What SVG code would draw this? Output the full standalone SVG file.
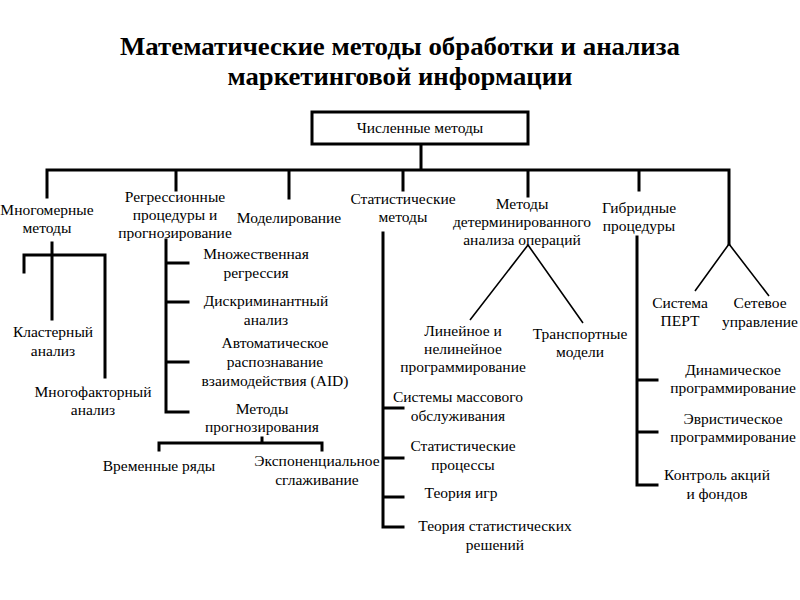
<svg xmlns="http://www.w3.org/2000/svg" width="800" height="600" viewBox="0 0 800 600">
<style>
text{font-size:15.5px;fill:#000;text-anchor:middle}
.title{font-size:25px;font-weight:bold}
.ln{stroke:#000;stroke-width:3;fill:none;stroke-linecap:square}
.dg{stroke:#000;stroke-width:1.6;fill:none}
</style>
<rect width="800" height="600" fill="#fff"/>
<g font-family="Liberation Serif, serif">
<g id="title">
<text class="title" x="400" y="55" textLength="560" lengthAdjust="spacingAndGlyphs">Математические методы обработки и анализа</text>
<text class="title" x="400" y="85" textLength="345" lengthAdjust="spacingAndGlyphs">маркетинговой информации</text>
</g>
<g id="connectors">
<path class="ln" d="M421 144V170M47 170H729M47 170V197M176 170V190M289 170V198M403 170V190M528 170V196M639 170V190M729 170V244"/>
<path class="dg" d="M729 244L695 291M729 244L769 296M528 245L470 320M528 245L583 323"/>
<path class="ln" d="M52 243V319M24 255H105M24 255V272M105 255V377"/>
<path class="ln" d="M166 240V412H188M166 263H188M166 302H188M166 362H188"/>
<path class="ln" d="M159 450V443H322V450M262 443V438"/>
<path class="ln" d="M383 233V527H403M383 408H403M383 458H403M383 497H403"/>
<path class="ln" d="M637 237V485H657M637 380H657M637 432H657"/>
</g>
<g id="n-root"><rect x="312" y="112" width="216" height="32" fill="#fff" stroke="#000" stroke-width="3"/><text x="420" y="133">Численные методы</text></g>
<g id="n-mnogomer"><text x="47" y="215">Многомерные</text><text x="47" y="233">методы</text></g>
<g id="n-regress"><text x="175" y="202">Регрессионные</text><text x="175" y="220">процедуры и</text><text x="175" y="238">прогнозирование</text></g>
<g id="n-model"><text x="289" y="223">Моделирование</text></g>
<g id="n-stat"><text x="403" y="204">Статистические</text><text x="403" y="222">методы</text></g>
<g id="n-determ"><text x="522" y="209">Методы</text><text x="522" y="227">детерминированного</text><text x="522" y="245">анализа операций</text></g>
<g id="n-gibrid"><text x="639" y="213">Гибридные</text><text x="639" y="231">процедуры</text></g>
<g id="n-klaster"><text x="53" y="337">Кластерный</text><text x="53" y="356">анализ</text></g>
<g id="n-mnogofaktor"><text x="93" y="397">Многофакторный</text><text x="93" y="415">анализ</text></g>
<g id="n-mnozh"><text x="256" y="259">Множественная</text><text x="256" y="278">регрессия</text></g>
<g id="n-diskrim"><text x="266" y="306">Дискриминантный</text><text x="266" y="325">анализ</text></g>
<g id="n-aid"><text x="275" y="348">Автоматическое</text><text x="275" y="367">распознавание</text><text x="275" y="386">взаимодействия (AID)</text></g>
<g id="n-prognoz"><text x="262" y="414">Методы</text><text x="262" y="432">прогнозирования</text></g>
<g id="n-vrem"><text x="159" y="471">Временные ряды</text></g>
<g id="n-exp"><text x="317" y="466">Экспоненциальное</text><text x="317" y="485">сглаживание</text></g>
<g id="n-lin"><text x="463" y="336">Линейное и</text><text x="463" y="354">нелинейное</text><text x="463" y="372">программирование</text></g>
<g id="n-transp"><text x="580" y="339">Транспортные</text><text x="580" y="357">модели</text></g>
<g id="n-smo"><text x="458" y="402">Системы массового</text><text x="458" y="421">обслуживания</text></g>
<g id="n-statproc"><text x="463" y="451">Статистические</text><text x="463" y="470">процессы</text></g>
<g id="n-igr"><text x="461" y="498">Теория игр</text></g>
<g id="n-resh"><text x="495" y="531">Теория статистических</text><text x="495" y="550">решений</text></g>
<g id="n-pert"><text x="680" y="308">Система</text><text x="680" y="326">ПЕРТ</text></g>
<g id="n-set"><text x="760" y="308">Сетевое</text><text x="760" y="327">управление</text></g>
<g id="n-dinam"><text x="733" y="375">Динамическое</text><text x="733" y="393">программирование</text></g>
<g id="n-evr"><text x="733" y="424">Эвристическое</text><text x="733" y="442">программирование</text></g>
<g id="n-kontrol"><text x="717" y="480">Контроль акций</text><text x="717" y="499">и фондов</text></g>
</g>
</svg>
